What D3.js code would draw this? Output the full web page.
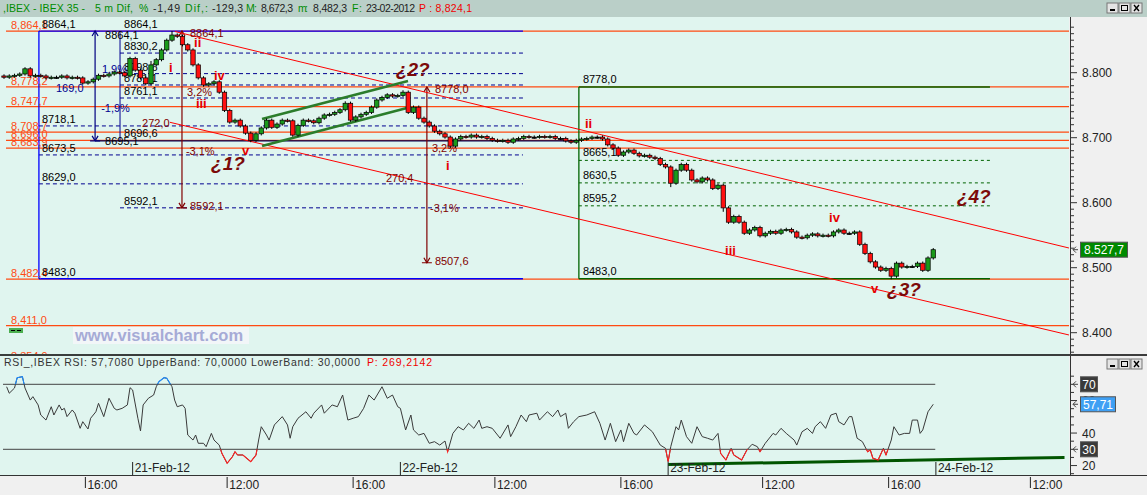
<!DOCTYPE html>
<html><head><meta charset="utf-8">
<script src="https://cdn.jsdelivr.net/npm/d3@7/dist/d3.min.js"></script>
<style>
body{margin:0;background:#f0f0f0;overflow:hidden}
svg{display:block}
text{font-family:"Liberation Sans",Arial,sans-serif}
</style></head>
<body><svg id="c" width="1147" height="495"></svg>
<script>
// ---------------- DATA ----------------
// candle closes (one candle every 2 five-minute slots, candle i sits at slot 2*i); open = previous close
const firstOpen = 8795;
const closes = [8793,8795,8796,8798,8806,8795,8796,8795,8792,8793,8793,8795,8792,8793,8792,8784,8786,8790,8796,8795,
8798,8801,8800,8795,8822,8804,8792,8783,8812,8820,8835,8850,8858,8856,8843,8835,8812,8792,8781,8783,
8786,8770,8742,8724,8727,8718,8707,8696,8706,8715,8727,8716,8721,8727,8726,8704,8719,8727,8726,8723,
8730,8735,8736,8739,8743,8753,8727,8732,8736,8739,8747,8758,8762,8766,8764,8765,8770,8739,8747,8730,
8724,8718,8710,8706,8701,8687,8698,8702,8701,8704,8701,8702,8699,8696,8695,8696,8693,8698,8699,8702,
8701,8701,8702,8701,8702,8699,8699,8695,8693,8696,8698,8699,8701,8701,8698,8689,8684,8673,8678,8681,
8676,8672,8673,8670,8668,8659,8655,8630,8650,8659,8650,8635,8632,8638,8635,8622,8627,8592,8570,8579,
8570,8553,8558,8562,8549,8553,8556,8553,8558,8559,8555,8547,8546,8550,8552,8549,8550,8549,8555,8558,
8553,8553,8555,8536,8522,8509,8501,8496,8499,8487,8507,8501,8502,8502,8507,8496,8515,8527.7];
// notable extremes [candle index, price]
const highExtremes = [[32,8864.1],[28,8818],[65,8756],[76,8773]];
const lowExtremes = [[169,8482.3],[85,8684],[127,8624],[47,8693],[137,8586]];

// RSI [five-minute slot, value]
const rsi = [[1,68.5],[2,64.5],[4,67.7],[5,74],[7,74.7],[8,67.7],[10,60.3],[11,62.4],[13,57.3],[14,51.1],[16,48],[18,56.2],[19,51.1],[21,57.3],[22,54.2],[23,55.2],[24,50.1],[26,54.2],[27,52.2],[29,42.9],[30,47],[32,42.5],[33,49.1],[35,53.1],[36,58.3],[37,54.2],[38,50.1],[40,61.4],[42,55.2],[43,54.2],[45,55.2],[47,57.3],[48,67.9],[49,66.5],[51,49.1],[52,41.3],[53,57.3],[55,61.4],[57,63.4],[58,68.5],[59,71.6],[61,74.1],[62,73.7],[64,68.5],[65,60.3],[66,56.2],[68,57.3],[69,55.2],[70,38.8],[72,35.7],[73,38.8],[74,33.7],[76,33.7],[77,31.6],[79,39.8],[80,35.7],[82,32.6],[83,27.5],[85,21.4],[87,25.4],[88,28.5],[89,26.5],[91,26.5],[94,22.4],[96,26.5],[97,35.7],[98,43.9],[100,38.8],[101,35.7],[103,45],[106,50.1],[108,45],[109,36.8],[110,43.9],[112,49.1],[115,53.1],[117,49.1],[118,52.2],[121,57.3],[122,52.2],[125,57.3],[127,56.2],[129,63.4],[131,48],[133,49.1],[135,50.1],[137,55.2],[139,63.4],[141,60.3],[144,68.5],[146,61.4],[148,63.4],[150,56.2],[151,55.2],[153,41.9],[155,51.1],[156,41.9],[158,38.8],[160,39.8],[162,33.7],[164,34.7],[166,32.6],[168,35.1],[169,28.5],[171,39.8],[173,43.9],[175,41.9],[177,46],[179,42.9],[181,48],[182,42.9],[184,43.9],[186,42.9],[189,36.8],[192,45],[193,37.8],[195,43.9],[197,51.1],[199,47],[200,51.1],[203,52.2],[204,48],[207,53.1],[209,50.1],[211,54.2],[212,50.1],[214,52.2],[215,42.9],[217,47],[219,50.1],[222,51.1],[225,53.1],[227,46],[229,35.7],[231,46],[233,34.7],[235,41.9],[236,34.7],[238,46],[240,39.8],[241,38.8],[244,45],[247,40.8],[250,32.6],[252,30.6],[253,22.4],[254,31.6],[256,43.9],[257,41.9],[258,48],[260,37.8],[262,33.7],[264,43.9],[266,37.8],[268,36.8],[270,35.7],[272,39.8],[273,27.5],[275,23.4],[277,30.6],[278,26.5],[281,23.4],[283,29.6],[285,33.1],[287,31.6],[288,28.5],[290,33.7],[293,39.8],[294,38.8],[296,42.9],[298,39.8],[301,35.7],[302,32.6],[304,40.8],[306,42.9],[308,39.8],[309,43.9],[311,47],[313,42.9],[315,51.1],[317,52.2],[318,47],[320,45],[322,50.1],[323,50.1],[325,36.8],[327,34.7],[329,28.5],[330,29.6],[331,24.5],[333,23.4],[335,30.6],[336,26.5],[338,35.7],[339,43.9],[341,38.8],[343,39.8],[345,39.8],[346,48],[348,48],[349,39.8],[350,41.9],[352,53.1],[354,57.71]];
const rsiUpper = 70, rsiLower = 30;
const rsiTrend = [[253,20.6],[404,24.95]];

// time axis: day index 0 = 20-Feb-12
const dayTicks = [[1,'21-Feb-12'],[2,'22-Feb-12'],[3,'23-Feb-12'],[4,'24-Feb-12']];
const timeTicks = [[0,'16:00'],[1,'12:00'],[1,'16:00'],[2,'12:00'],[2,'16:00'],[3,'12:00'],[3,'16:00'],[4,'12:00']];

// price axis
const priceTicks = d3.range(8360, 8871, 10);
const rsiTicks = d3.range(15, 76, 5);
const rsiLabelTicks = [20, 40, 60];
const lastPrice = 8527.7;

// orange horizontal levels
const orangeLevels = [8864.1, 8778.2, 8747.7, 8708.7, 8696.0, 8683.9, 8482.4, 8411.0, 8354.9];

// blue fibonacci A (from slot 13.3)
const fibAStart = 13.3, fibEnd = 197.7;
const fibASolid = [8864.1, 8483.0];
const fibADashed = [8718.1, 8673.5, 8629.0];
// blue fibonacci B (from slot 44.2)
const fibBStart = 44.2;
const fibBTop = 8864.1, fibBBottom = 8695.1;
const fibBDashed = [8830.2, 8798.6, 8781.1, 8761.1, 8592.1];
const fibBExtraLabel = 8696.6;
const navyArrowSlot = 34.7, navyLineEnd = 219;

// dark red measured moves [slot, top price, bottom price]
const measures = [[67.8, 8864.1, 8592.1], [161.1, 8778.0, 8507.6]];

// green box
const boxStart = 219, boxEnd = 375.6;
const boxTop = 8778.0, boxBottom = 8483.0;
const boxDashed = [8665.1, 8630.5, 8595.2];

// red channel and green channel [slot, price]
const redUpper = [[65.1, 8863.4], [405.7, 8530.3]];
const redLower = [[63.2, 8723.7], [405.7, 8396.5]];
const greenUpper = [[98.3, 8728.6], [153.9, 8787.2]];
const greenLower = [[98.3, 8687.2], [153.5, 8745.7]];

// free annotations [text, slot, price, colour]
const notes = [
 ['169,0', 19.8, 8770.3, '#000090'], ['-1,9%', 37, 8739.5, '#000090'], ['1,9%', 37.3, 8799.5, '#000090'],
 ['3,2%', 69.7, 8764, '#800000'], ['-3,1%', 69.3, 8673.4, '#800000'], ['272,0', 52.6, 8716.5, '#800000'],
 ['270,4', 145.5, 8631.8, '#800000'], ['3,2%', 163, 8678, '#800000'], ['-3,1%', 162.3, 8585.7, '#800000']
];
// Elliott wave labels [text, slot, price]
const waves = [['ii',72.4,8839.5],['i',62.9,8801.1],['iv',80,8788.8],['iii',73.1,8745.7],['v',90.7,8673.4],
 ['i',168.4,8650.3],['ii',221.3,8714.9],['iii',274.7,8519.5],['iv',314.3,8570.3],['v',330.3,8461]];
const questions = [['¿1?',78.9,8650.3],['¿2?',149.3,8794.9],['¿3?',336.4,8456.5],['¿4?',363,8599.5]];

// header texts
const header = [[',IBEX - IBEX 35 -',3,82,'g'],['5 m Dif,',95,38,'g'],['%:',139,9,'g'],['-1,49',153,27,'k'],['Dif,:',185,23,'g'],
 ['-129,3',212,31,'k'],['M:',246,11,'g'],['8,672,3',261,32,'k'],['m:',298,10,'g'],['8,482,3',313,34,'k'],['F:',352,10,'g'],
 ['23-02-2012',366,49,'k'],['P : 8,824,1',419,53,'r']];
const rsiHeader = 'RSI_,IBEX RSI: 57,7080 UpperBand: 70,0000 LowerBand: 30,0000';
const rsiHeaderP = 'P: 269,2142';

// ---------------- DRAW ----------------
const svg = d3.select('#c');
const PR = 1069, MT = 17, MB = 354, RT = 356, RB = 475;
const x = d3.scaleLinear().domain([0, 1]).range([4, 6.625]);
const y = d3.scaleLinear().domain([8400, 8800]).range([332.7, 72.7]);
const yr = d3.scaleLinear().domain([30, 70]).range([449.3, 384.3]);
const slotOf = (d, t) => { const [h, m] = t.split(':').map(Number); return d * 102 + (h * 60 + m - 540) / 5 - 53; };
const L1 = d3.formatLocale({decimal: ',', thousands: ',', grouping: [3], currency: ['', '']});
const L2 = d3.formatLocale({decimal: ',', thousands: '.', grouping: [3], currency: ['', '']});
const fOrange = L1.format(',.1f'), fPlain = L1.format('.1f'), fAxis = L2.format(',.0f'), fPrice = L2.format(',.1f'), fR = L1.format('.2f');

const ORANGE = '#ff4a12', MINT = '#e0f5ef';
const defs = svg.append('defs');
defs.append('clipPath').attr('id', 'cm').append('rect').attr('x', 0).attr('y', MT).attr('width', PR).attr('height', MB - MT);
defs.append('clipPath').attr('id', 'cr').append('rect').attr('x', 0).attr('y', RT).attr('width', PR).attr('height', RB - RT);
defs.append('clipPath').attr('id', 'cup').append('rect').attr('x', 0).attr('y', RT).attr('width', PR).attr('height', yr(rsiUpper) - RT);
defs.append('clipPath').attr('id', 'clo').append('rect').attr('x', 0).attr('y', yr(rsiLower)).attr('width', PR).attr('height', RB - yr(rsiLower));

// backgrounds
svg.append('rect').attr('width', 1147).attr('height', 495).attr('fill', '#f0f0f0');
svg.append('rect').attr('width', 1147).attr('height', MT).attr('fill', '#bacfc8');
svg.append('rect').attr('y', MT).attr('width', PR).attr('height', MB - MT + 1).attr('fill', MINT);
svg.append('rect').attr('y', RT).attr('width', PR).attr('height', RB - RT).attr('fill', MINT);
svg.append('line').attr('x1', 0).attr('x2', 1147).attr('y1', 355).attr('y2', 355).attr('stroke', '#000').attr('stroke-width', 1.5);
svg.append('line').attr('x1', 0).attr('x2', 1147).attr('y1', RB + 0.5).attr('y2', RB + 0.5).attr('stroke', '#333');
[[MT, 354.5], [RT, RB]].forEach(([a, b]) => svg.append('line').attr('x1', 1070.5).attr('x2', 1070.5).attr('y1', a).attr('y2', b).attr('stroke', '#333'));

// window buttons
function buttons(y0) {
  const g = svg.append('g');
  [1107, 1119, 1131].forEach((bx, k) => {
    g.append('rect').attr('x', bx).attr('y', y0).attr('width', 11).attr('height', 10).attr('fill', '#e4e4e4').attr('stroke', '#777');
    if (k === 0) g.append('rect').attr('x', bx + 3).attr('y', y0 + 6).attr('width', 5).attr('height', 2).attr('fill', '#000');
    if (k === 1) g.append('rect').attr('x', bx + 2.5).attr('y', y0 + 2.5).attr('width', 6).attr('height', 5).attr('fill', 'none').attr('stroke', '#000');
    if (k === 2) g.append('path').attr('d', `M${bx+3},${y0+2}L${bx+8},${y0+8}M${bx+8},${y0+2}L${bx+3},${y0+8}`).attr('stroke', '#000').attr('stroke-width', 1.4);
  });
}
buttons(3); buttons(359);

// header
const hc = {g: '#008c00', k: '#222', r: '#f00000'};
header.forEach(([t, hx, w, c]) => svg.append('text').attr('x', hx).attr('y', 12).attr('font-size', 10.5)
  .attr('textLength', w).attr('lengthAdjust', 'spacing').attr('fill', hc[c]).text(t));
svg.append('text').attr('x', 4).attr('y', 366).attr('font-size', 10.5).attr('textLength', 356).attr('lengthAdjust', 'spacing').attr('fill', '#333').text(rsiHeader);
svg.append('text').attr('x', 367).attr('y', 366).attr('font-size', 10.5).attr('textLength', 65).attr('lengthAdjust', 'spacing').attr('fill', '#f00000').text(rsiHeaderP);

// ---------- main panel ----------
const m = svg.append('g').attr('clip-path', 'url(#cm)');
const hline = (g, p, s0, s1, col, w, dash) => g.append('line').attr('x1', s0 === null ? 6 : x(s0)).attr('x2', s1 === null ? PR : x(s1))
  .attr('y1', y(p)).attr('y2', y(p)).attr('stroke', col).attr('stroke-width', w).attr('stroke-dasharray', dash || null);
const seg = (g, pts, col, w) => g.append('line').attr('x1', x(pts[0][0])).attr('y1', y(pts[0][1])).attr('x2', x(pts[1][0])).attr('y2', y(pts[1][1]))
  .attr('stroke', col).attr('stroke-width', w);
const label = (g, t, px, py, col, size) => g.append('text').attr('x', px).attr('y', py).attr('font-size', size || 11).attr('fill', col).text(t);

orangeLevels.forEach(p => hline(m, p, null, null, ORANGE, 1.3));

// green box
boxDashed.forEach(p => hline(m, p, boxStart, boxEnd, '#006400', 1, '3,3'));
[boxTop, boxBottom].forEach(p => hline(m, p, boxStart, boxEnd, '#006400', 1.3));
m.append('line').attr('x1', x(boxStart)).attr('x2', x(boxStart)).attr('y1', y(boxTop)).attr('y2', y(boxBottom)).attr('stroke', '#006400').attr('stroke-width', 1.3);

// blue fib A
fibADashed.forEach(p => hline(m, p, fibAStart, fibEnd, '#000090', 1, '4,3'));
fibASolid.forEach(p => hline(m, p, fibAStart, fibEnd, '#0000ff', 1.3));
m.append('line').attr('x1', x(fibAStart)).attr('x2', x(fibAStart)).attr('y1', y(fibASolid[0])).attr('y2', y(fibASolid[1])).attr('stroke', '#0000ff').attr('stroke-width', 1.3);
// blue fib B
fibBDashed.forEach(p => hline(m, p, fibBStart, fibEnd, '#000090', 1, '4,3'));
m.append('line').attr('x1', x(fibBStart)).attr('x2', x(fibBStart)).attr('y1', y(fibBTop)).attr('y2', y(fibBBottom)).attr('stroke', '#000090').attr('stroke-width', 1);
hline(m, fibBBottom, navyArrowSlot, navyLineEnd, '#000050', 1.3);
// arrows
function arrow(g, s, pTop, pBot, col) {
  const ax = x(s), yt = y(pTop), yb = y(pBot);
  g.append('line').attr('x1', ax).attr('x2', ax).attr('y1', yt).attr('y2', yb).attr('stroke', col).attr('stroke-width', 1.2);
  g.append('path').attr('d', `M${ax-3},${yt+5}L${ax},${yt}L${ax+3},${yt+5}M${ax-3},${yb-5}L${ax},${yb}L${ax+3},${yb-5}M${ax-5},${yb}L${ax+5},${yb}`)
    .attr('fill', 'none').attr('stroke', col).attr('stroke-width', 1.2);
}
arrow(m, navyArrowSlot, fibBTop, fibBBottom, '#000080');
measures.forEach(([s, a, b]) => arrow(m, s, a, b, '#800000'));

// channels
seg(m, redUpper, '#ff0000', 1);
seg(m, redLower, '#ff0000', 1);
seg(m, greenUpper, '#2b7d2b', 2.6);
seg(m, greenLower, '#2b7d2b', 2.6);

// labels
orangeLevels.forEach(p => label(m, fOrange(p), 11, y(p) - 2, ORANGE));
fibASolid.concat(fibADashed).forEach(p => label(m, fPlain(p), x(fibAStart) + 3, y(p) - 3, '#000'));
[fibBTop].concat(fibBDashed).forEach(p => label(m, fPlain(p), x(fibBStart) + 4, y(p) - 3, '#000'));
label(m, fPlain(fibBExtraLabel), x(fibBStart) + 4, y(fibBExtraLabel) - 3, '#000');
label(m, fPlain(fibBTop), x(navyArrowSlot) + 10, y(fibBTop) + 8, '#000');
label(m, fPlain(fibBBottom), x(navyArrowSlot) + 10, y(fibBBottom) + 4, '#000');
measures.forEach(([s, a, b]) => { label(m, fPlain(a), x(s) + 8, y(a) + 6, '#800000'); label(m, fPlain(b), x(s) + 8, y(b) + 2, '#800000'); });
[boxTop].concat(boxDashed, [boxBottom]).forEach(p => label(m, fPlain(p), x(boxStart) + 4, y(p) - 4, '#000'));
notes.forEach(([t, s, p, c]) => label(m, t, x(s), y(p), c));

// candles
const cg = m.append('g');
closes.forEach((c, i) => {
  const o = i ? closes[i - 1] : firstOpen;
  const he = highExtremes.find(d => d[0] === i), le = lowExtremes.find(d => d[0] === i);
  const hi = he ? he[1] : Math.max(o, c) + 2.5, lo = le ? le[1] : Math.min(o, c) - 2.5;
  const cx = x(2 * i);
  cg.append('line').attr('x1', cx).attr('x2', cx).attr('y1', y(hi)).attr('y2', y(lo)).attr('stroke', '#000').attr('stroke-width', 1);
  const top = y(Math.max(o, c)), h = Math.max(1.2, y(Math.min(o, c)) - top);
  cg.append('rect').attr('x', cx - 2.2).attr('y', top).attr('width', 4.4).attr('height', h)
    .attr('fill', c > o ? '#1a9a1a' : (c < o ? '#ff1010' : '#000')).attr('stroke', '#000').attr('stroke-width', 0.7);
});

// wave labels
waves.forEach(([t, s, p]) => m.append('text').attr('x', x(s)).attr('y', y(p)).attr('font-size', 13).attr('font-weight', 'bold').attr('fill', '#e60000').text(t));
questions.forEach(([t, s, p]) => m.append('text').attr('x', x(s)).attr('y', y(p)).attr('font-family', '"Liberation Serif","DejaVu Serif",serif')
  .attr('font-size', 19).attr('font-weight', 'bold').attr('font-style', 'italic').attr('fill', '#7c0a0a').text(t));

// watermark & small marker
m.append('rect').attr('x', 73).attr('y', 327).attr('width', 176).attr('height', 17).attr('fill', '#f2f6f8');
m.append('text').attr('x', 75).attr('y', 341).attr('font-size', 16.5).attr('font-weight', 'bold').attr('fill', '#a6abd6').text('www.visualchart.com');
m.append('rect').attr('x', 9).attr('y', 328).attr('width', 14).attr('height', 5).attr('fill', '#4caf50');
m.append('line').attr('x1', 11).attr('x2', 21).attr('y1', 330.5).attr('y2', 330.5).attr('stroke', '#000').attr('stroke-dasharray', '4,2');

// right price axis
priceTicks.filter(v => y(v) > MT + 2 && y(v) < MB - 1).forEach(v => {
  const major = v % 100 === 0;
  svg.append('line').attr('x1', 1071).attr('x2', 1071 + (major ? 6 : 3)).attr('y1', y(v)).attr('y2', y(v)).attr('stroke', '#333');
  if (major) svg.append('text').attr('x', 1082).attr('y', y(v) + 4.5).attr('font-size', 12).attr('fill', '#222').text(fAxis(v));
});
function badge(yv, txt, fill, w, tcol) {
  svg.append('path').attr('d', `M1078,${yv}L1073,${yv}M1076,${yv-3}L1073,${yv}L1076,${yv+3}`).attr('stroke', '#444').attr('fill', 'none');
  svg.append('rect').attr('x', 1080.5).attr('y', yv - 7.5).attr('width', w).attr('height', 15).attr('fill', fill).attr('stroke', '#555');
  svg.append('text').attr('x', 1080.5 + w / 2).attr('y', yv + 4.5).attr('text-anchor', 'middle').attr('font-size', 12).attr('fill', tcol || '#fff').text(txt);
}
badge(y(lastPrice), fPrice(lastPrice), '#008a00', 47);

// ---------- RSI panel ----------
const r = svg.append('g').attr('clip-path', 'url(#cr)');
[rsiUpper, rsiLower].forEach(v => r.append('line').attr('x1', 3).attr('x2', x(354) + 2).attr('y1', yr(v)).attr('y2', yr(v)).attr('stroke', '#444').attr('stroke-width', 1));
r.append('line').attr('x1', x(rsiTrend[0][0])).attr('y1', yr(rsiTrend[0][1])).attr('x2', x(rsiTrend[1][0])).attr('y2', yr(rsiTrend[1][1]))
  .attr('stroke', '#005500').attr('stroke-width', 3);
const rl = d3.line().x(d => x(d[0])).y(d => yr(d[1]));
r.append('path').attr('d', rl(rsi)).attr('fill', 'none').attr('stroke', '#3a3a3a').attr('stroke-width', 1);
r.append('path').attr('d', rl(rsi)).attr('fill', 'none').attr('stroke', '#1e8cff').attr('stroke-width', 1.1).attr('clip-path', 'url(#cup)');
r.append('path').attr('d', rl(rsi)).attr('fill', 'none').attr('stroke', '#ff2020').attr('stroke-width', 1.1).attr('clip-path', 'url(#clo)');
// date ticks
dayTicks.forEach(([d, t]) => {
  const sx = x(slotOf(d, '9:00'));
  r.append('line').attr('x1', sx).attr('x2', sx).attr('y1', 462).attr('y2', RB).attr('stroke', '#222');
  r.append('text').attr('x', sx + 2).attr('y', 471.5).attr('font-size', 12).attr('fill', '#222').text(t);
});
// RSI right axis
rsiTicks.filter(v => yr(v) > RT + 2 && yr(v) < RB - 1).forEach(v => {
  const major = rsiLabelTicks.includes(v);
  svg.append('line').attr('x1', 1071).attr('x2', 1071 + (major ? 6 : 3)).attr('y1', yr(v)).attr('y2', yr(v)).attr('stroke', '#333');
  if (major) svg.append('text').attr('x', 1082).attr('y', yr(v) + 4.5).attr('font-size', 12).attr('fill', '#222').text(v);
});
badge(yr(rsiUpper), String(rsiUpper), '#3a3a3a', 17);
badge(yr(rsiLower), String(rsiLower), '#3a3a3a', 17);
const lastR = rsi[rsi.length - 1][1];
badge(yr(lastR), fR(lastR), '#3fa0f4', 35);

// bottom time axis
timeTicks.forEach(([d, t]) => {
  const sx = x(slotOf(d, t));
  svg.append('line').attr('x1', sx).attr('x2', sx).attr('y1', 477).attr('y2', 488).attr('stroke', '#222');
  svg.append('text').attr('x', sx + 2).attr('y', 489).attr('font-size', 12).attr('fill', '#222').text(t);
});
</script></body></html>
